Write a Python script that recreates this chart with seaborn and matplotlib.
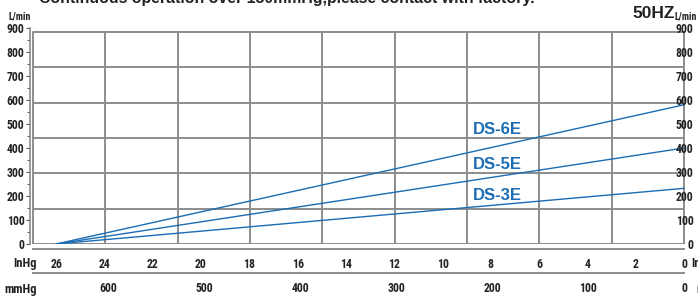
import numpy as np
import pandas as pd
import matplotlib
matplotlib.use("Agg")
import matplotlib.pyplot as plt
import seaborn as sns
from matplotlib import font_manager
from matplotlib.ticker import MultipleLocator

# ---------------------------------------------------------
# Data
# ---------------------------------------------------------
pump_models = ["DS-6E", "DS-5E", "DS-3E"]
vacuum_inhg = [26, 0]
flow_ds6e = [0, 580]
flow_ds5e = [0, 400]
flow_ds3e = [0, 232]

inhg_ticks = [26, 24, 22, 20, 18, 16, 14, 12, 10, 8, 6, 4, 2, 0]
mmhg_ticks = [600, 500, 400, 300, 200, 100, 0]
flow_ticks = [0, 100, 200, 300, 400, 500, 600, 700, 800, 900]

df = pd.DataFrame({
    "InHg": vacuum_inhg * 3,
    "flow": flow_ds6e + flow_ds5e + flow_ds3e,
    "model": np.repeat(pump_models, len(vacuum_inhg)),
})

# ---------------------------------------------------------
# Style
# ---------------------------------------------------------
sns.set_style("white")
SANS = ["Liberation Sans", "DejaVu Sans"]
plt.rcParams["font.family"] = SANS

# condensed face for the axis numbers, if one is installed
names = {f.name for f in font_manager.fontManager.ttflist}
NARROW = None
for cand in ["Liberation Sans Narrow", "DejaVu Sans Condensed", "Roboto Condensed",
             "Open Sans Condensed", "Noto Sans Condensed"]:
    if cand in names:
        NARROW = cand
        break
condensed = [f for f in font_manager.fontManager.ttflist
             if f.stretch in ("condensed", "semi-condensed", "extra-condensed")
             or (isinstance(f.stretch, int) and f.stretch < 500)]
if NARROW is None and condensed:
    NARROW = condensed[0].name
NARROW_KW = dict(family=[NARROW or "Liberation Sans", "DejaVu Sans"],
                 fontstretch="condensed", fontweight="bold")
NSIZE = 8.5 if NARROW else 7.5

BLUE = "#1b6db4"
GRID = "#8c8c8c"
TXT = "#222222"

W, H = 698, 296
fig = plt.figure(figsize=(W / 100, H / 100), dpi=100)


def fx(px):
    return px / W


def fy(py):
    return 1 - py / H


X_LIM = (27.08, -0.62)
BOX_LEFT = 26.95
BOX_TOP = 883

# main plot area (left spine at x=30, right spine just off the image)
ax = fig.add_axes([fx(30), fy(244), (699 - 30) / W, 216 / H])
ax.set_xlim(*X_LIM)
ax.set_ylim(0, 900)
for s in ["top", "right", "bottom"]:
    ax.spines[s].set_visible(False)
ax.spines["left"].set_color(GRID)
ax.spines["left"].set_linewidth(1.2)
ax.set_xticks([])
ax.yaxis.set_minor_locator(MultipleLocator(50))
ax.tick_params(axis="y", which="both", left=True, direction="out", colors="#555555",
               labelcolor=TXT, pad=1)
ax.tick_params(axis="y", which="major", length=3, width=0.8)
ax.tick_params(axis="y", which="minor", length=2, width=0.8)
ax.set_yticks(flow_ticks)
ax.set_yticklabels([str(v) for v in flow_ticks], fontsize=NSIZE, **NARROW_KW)

# grid box
for k in range(1, 9):
    ax.axvline(BOX_LEFT * k / 9, ymin=0, ymax=BOX_TOP / 900, color=GRID, lw=1.4, zorder=1)
for k in range(1, 6):
    ax.plot([BOX_LEFT, 0], [BOX_TOP * k / 6] * 2, color=GRID, lw=1.4, zorder=1)
ax.plot([BOX_LEFT, 0, 0, BOX_LEFT, BOX_LEFT], [0, 0, BOX_TOP, BOX_TOP, 0],
        color=GRID, lw=1.4, zorder=1)

# performance lines
sns.lineplot(data=df, x="InHg", y="flow", hue="model",
             palette=[BLUE] * len(pump_models), linewidth=1.0,
             legend=False, ax=ax, zorder=3)
ax.set_xlabel("")
ax.set_ylabel("")

label_y = [479, 333, 200]
for name, yv in zip(pump_models, label_y):
    ax.text(8.74, yv, name, color=BLUE, fontsize=12, fontweight="bold", family=SANS,
            ha="left", va="center", zorder=4)

# right-hand flow axis (mirrored, mostly outside the image)
axr = fig.add_axes([fx(699), fy(244), 0.02, 216 / H])
axr.set_ylim(0, 900)
axr.set_xticks([])
for s in ["top", "right", "bottom"]:
    axr.spines[s].set_visible(False)
axr.spines["left"].set_color(GRID)
axr.patch.set_alpha(0)
axr.yaxis.set_minor_locator(MultipleLocator(50))
axr.tick_params(axis="y", which="both", direction="out", colors="#555555", labelcolor=TXT, pad=1)
axr.tick_params(axis="y", which="major", length=3, width=0.8)
axr.tick_params(axis="y", which="minor", length=2, width=0.8)
axr.set_yticks(flow_ticks)
axr.set_yticklabels([str(v) for v in flow_ticks], fontsize=NSIZE, **NARROW_KW)


def scale_axis(y_px, ticks, labels):
    a = fig.add_axes([fx(30), fy(y_px), (699 - 30) / W, 0.0001])
    a.set_xlim(*X_LIM)
    a.set_ylim(0, 1)
    a.set_yticks([])
    a.patch.set_alpha(0)
    for s in ["top", "left", "right"]:
        a.spines[s].set_visible(False)
    a.spines["bottom"].set_color(GRID)
    a.spines["bottom"].set_linewidth(1.4)
    a.spines["bottom"].set_bounds(BOX_LEFT, 0)
    a.set_xticks(ticks)
    a.set_xticklabels(labels, fontsize=NSIZE, color=TXT, **NARROW_KW)
    a.tick_params(axis="x", direction="out", length=3.5, width=1, colors=GRID,
                  labelcolor=TXT, pad=3)
    return a


scale_axis(249, inhg_ticks, [str(v) for v in inhg_ticks])
scale_axis(273, np.array(mmhg_ticks) / 25.16, [str(v) for v in mmhg_ticks])

# free text
fig.text(fx(37), fy(264), "InHg", ha="right", va="center", fontsize=NSIZE + 0.5,
         color=TXT, **NARROW_KW)
fig.text(fx(37), fy(290), "mmHg", ha="right", va="center", fontsize=NSIZE + 0.5,
         color=TXT, **NARROW_KW)
fig.text(fx(691), fy(264), "InHg", ha="left", va="center", fontsize=NSIZE + 0.5,
         color=TXT, **NARROW_KW)
fig.text(fx(696), fy(290), "mmHg", ha="left", va="center", fontsize=NSIZE + 0.5,
         color=TXT, **NARROW_KW)
fig.text(fx(20), fy(17), "L/min", ha="center", va="center", fontsize=NSIZE - 1.5,
         color=TXT, **NARROW_KW)
fig.text(fx(697), fy(16), "L/min", ha="right", va="center", fontsize=NSIZE - 1.5,
         color=TXT, **NARROW_KW)
fig.text(fx(675), fy(13), "50HZ", ha="right", va="center", family=SANS,
         fontweight="bold", fontsize=12.5, color=TXT)
fig.text(fx(39), fy(3), "Continuous operation over 150mmHg,please contact with factory.",
         ha="left", va="baseline", family=SANS, fontweight="bold", fontsize=11.4, color=TXT)

fig.savefig("out.png", dpi=100)
